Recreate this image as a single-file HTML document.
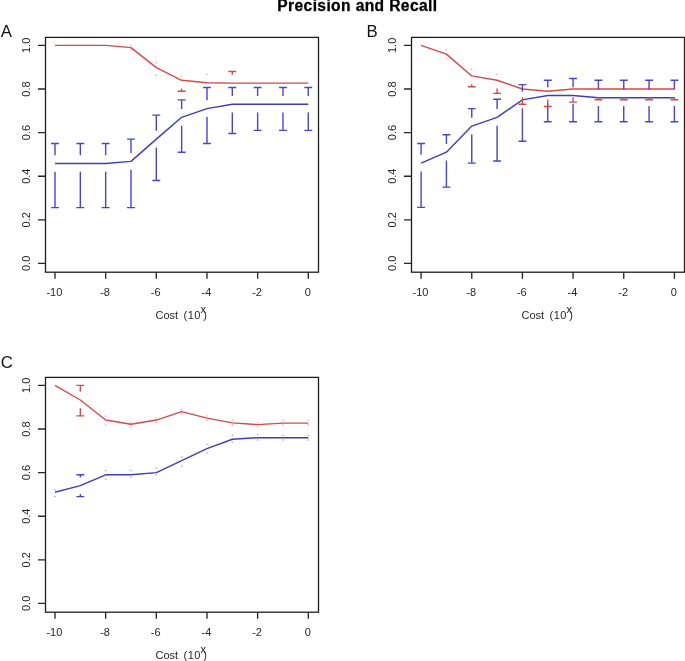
<!DOCTYPE html>
<html><head><meta charset="utf-8"><style>
html,body{margin:0;padding:0;background:#fff;}
svg{display:block;will-change:transform;}
text{font-family:"Liberation Sans",sans-serif;fill:#262626;}
.t{font-size:11px;}
.pl{font-size:16.8px;fill:#111;}
.ti{font-size:15.6px;stroke:#000;stroke-width:0.3px;letter-spacing:0.38px;font-weight:bold;fill:#000;}
</style></head><body>
<svg width="685" height="661" viewBox="0 0 685 661">
<rect width="685" height="661" fill="#fff"/>
<rect x="45.5" y="37.4" width="273" height="234.8" fill="none" stroke="#1e1e1e" stroke-width="1.3"/>
<path d="M38 263.4H45.5M38 219.8H45.5M38 176.2H45.5M38 132.6H45.5M38 89H45.5M38 45.4H45.5M55 272.2V278.8M105.66 272.2V278.8M156.32 272.2V278.8M206.98 272.2V278.8M257.64 272.2V278.8M308.3 272.2V278.8" stroke="#262626" stroke-width="1.35" fill="none"/>
<text transform="translate(30 263.4) rotate(-90)" text-anchor="middle" class="t">0.0</text>
<text transform="translate(30 219.8) rotate(-90)" text-anchor="middle" class="t">0.2</text>
<text transform="translate(30 176.2) rotate(-90)" text-anchor="middle" class="t">0.4</text>
<text transform="translate(30 132.6) rotate(-90)" text-anchor="middle" class="t">0.6</text>
<text transform="translate(30 89) rotate(-90)" text-anchor="middle" class="t">0.8</text>
<text transform="translate(30 45.4) rotate(-90)" text-anchor="middle" class="t">1.0</text>
<text x="54.4" y="295.5" text-anchor="middle" class="t">-10</text>
<text x="105.06" y="295.5" text-anchor="middle" class="t">-8</text>
<text x="155.72" y="295.5" text-anchor="middle" class="t">-6</text>
<text x="206.38" y="295.5" text-anchor="middle" class="t">-4</text>
<text x="257.04" y="295.5" text-anchor="middle" class="t">-2</text>
<text x="307.7" y="295.5" text-anchor="middle" class="t">0</text>
<text x="155.5" y="318.7" class="t">Cost</text><text x="183.5" y="318.7" class="t" letter-spacing="0.5">(10</text><text x="200.5" y="312.7" class="t" font-size="7.8">x</text><text x="203.3" y="318.7" class="t">)</text>
<polyline points="55,45.4 80.33,45.4 105.66,45.4 130.99,47.58 156.32,67.64 181.65,80.28 206.98,82.68 232.31,83.11 257.64,83.11 282.97,83.11 308.3,83.11" fill="none" stroke="#d24a4a" stroke-width="1.4" stroke-linejoin="round"/>
<polyline points="55,163.56 80.33,163.56 105.66,163.56 130.99,161.38 156.32,139.14 181.65,117.34 206.98,108.62 232.31,104.26 257.64,104.26 282.97,104.26 308.3,104.26" fill="none" stroke="#3d3dbe" stroke-width="1.4" stroke-linejoin="round"/>
<g stroke="#4646cc" fill="#4646cc" stroke-width="1.4"><path d="M55 155.26V143.5M51.05 143.5H58.95"/><path d="M55 171.86V207.59M51.05 207.59H58.95"/><path d="M80.33 155.26V143.5M76.38 143.5H84.28"/><path d="M80.33 171.86V207.59M76.38 207.59H84.28"/><path d="M105.66 155.26V143.5M101.71 143.5H109.61"/><path d="M105.66 171.86V207.59M101.71 207.59H109.61"/><path d="M130.99 153.08V139.14M127.04 139.14H134.94"/><path d="M130.99 169.68V207.59M127.04 207.59H134.94"/><path d="M156.32 130.84V115.16M152.37 115.16H160.27"/><path d="M156.32 147.44V180.56M152.37 180.56H160.27"/><path d="M181.65 109.04V99.9M177.7 99.9H185.6"/><path d="M181.65 125.64V152.22M177.7 152.22H185.6"/><path d="M206.98 100.32V87.47M203.03 87.47H210.93"/><path d="M206.98 116.92V143.5M203.03 143.5H210.93"/><path d="M232.31 95.96V87.47M228.36 87.47H236.26"/><path d="M232.31 112.56V133.47M228.36 133.47H236.26"/><path d="M257.64 95.96V87.47M253.69 87.47H261.59"/><path d="M257.64 112.56V130.42M253.69 130.42H261.59"/><path d="M282.97 95.96V87.47M279.02 87.47H286.92"/><path d="M282.97 112.56V130.42M279.02 130.42H286.92"/><path d="M308.3 95.96V87.47M304.35 87.47H312.25"/><path d="M308.3 112.56V130.42M304.35 130.42H312.25"/></g>
<g stroke="#d24a4a" fill="#d24a4a" stroke-width="1.4"><circle cx="130.99" cy="45.4" r="0.75" stroke="none" opacity="0.55"/><circle cx="130.99" cy="49.76" r="0.75" stroke="none" opacity="0.55"/><circle cx="156.32" cy="62.84" r="0.75" stroke="none" opacity="0.55"/><circle cx="156.32" cy="75.27" r="0.75" stroke="none" opacity="0.55"/><circle cx="181.65" cy="75.92" r="0.75" stroke="none" opacity="0.55"/><path d="M181.65 88.58V91.18M177.7 91.18H185.6"/><circle cx="206.98" cy="74.39" r="0.75" stroke="none" opacity="0.55"/><circle cx="206.98" cy="89" r="0.75" stroke="none" opacity="0.55"/><path d="M232.31 74.81V71.56M228.36 71.56H236.26"/><circle cx="232.31" cy="89" r="0.75" stroke="none" opacity="0.55"/></g>
<text x="0.8" y="37.3" class="pl">A</text>
<rect x="411.5" y="37.4" width="273" height="234.8" fill="none" stroke="#1e1e1e" stroke-width="1.3"/>
<path d="M404 263.4H411.5M404 219.8H411.5M404 176.2H411.5M404 132.6H411.5M404 89H411.5M404 45.4H411.5M421.1 272.2V278.8M471.76 272.2V278.8M522.42 272.2V278.8M573.08 272.2V278.8M623.74 272.2V278.8M674.4 272.2V278.8" stroke="#262626" stroke-width="1.35" fill="none"/>
<text transform="translate(396 263.4) rotate(-90)" text-anchor="middle" class="t">0.0</text>
<text transform="translate(396 219.8) rotate(-90)" text-anchor="middle" class="t">0.2</text>
<text transform="translate(396 176.2) rotate(-90)" text-anchor="middle" class="t">0.4</text>
<text transform="translate(396 132.6) rotate(-90)" text-anchor="middle" class="t">0.6</text>
<text transform="translate(396 89) rotate(-90)" text-anchor="middle" class="t">0.8</text>
<text transform="translate(396 45.4) rotate(-90)" text-anchor="middle" class="t">1.0</text>
<text x="420.5" y="295.5" text-anchor="middle" class="t">-10</text>
<text x="471.16" y="295.5" text-anchor="middle" class="t">-8</text>
<text x="521.82" y="295.5" text-anchor="middle" class="t">-6</text>
<text x="572.48" y="295.5" text-anchor="middle" class="t">-4</text>
<text x="623.14" y="295.5" text-anchor="middle" class="t">-2</text>
<text x="673.8" y="295.5" text-anchor="middle" class="t">0</text>
<text x="521.5" y="318.7" class="t">Cost</text><text x="549.5" y="318.7" class="t" letter-spacing="0.5">(10</text><text x="566.5" y="312.7" class="t" font-size="7.8">x</text><text x="569.3" y="318.7" class="t">)</text>
<polyline points="421.1,45.4 446.43,54.12 471.76,75.92 497.09,80.28 522.42,89 547.75,91.18 573.08,89 598.41,89 623.74,89 649.07,89 674.4,89" fill="none" stroke="#d24a4a" stroke-width="1.4" stroke-linejoin="round"/>
<polyline points="421.1,163.12 446.43,152.22 471.76,126.06 497.09,117.34 522.42,99.9 547.75,95.54 573.08,95.54 598.41,97.72 623.74,97.72 649.07,97.72 674.4,97.72" fill="none" stroke="#3d3dbe" stroke-width="1.4" stroke-linejoin="round"/>
<g stroke="#4646cc" fill="#4646cc" stroke-width="1.4"><path d="M421.1 154.82V143.5M417.15 143.5H425.05"/><path d="M421.1 171.42V207.37M417.15 207.37H425.05"/><path d="M446.43 143.92V134.78M442.48 134.78H450.38"/><path d="M446.43 160.52V187.1M442.48 187.1H450.38"/><path d="M471.76 117.76V108.62M467.81 108.62H475.71"/><path d="M471.76 134.36V163.12M467.81 163.12H475.71"/><path d="M497.09 109.04V99.25M493.14 99.25H501.04"/><path d="M497.09 125.64V160.94M493.14 160.94H501.04"/><path d="M522.42 91.6V84.64M518.47 84.64H526.37"/><path d="M522.42 108.2V141.32M518.47 141.32H526.37"/><path d="M547.75 87.24V80.28M543.8 80.28H551.7"/><path d="M547.75 103.84V121.7M543.8 121.7H551.7"/><path d="M573.08 87.24V78.54M569.13 78.54H577.03"/><path d="M573.08 103.84V121.7M569.13 121.7H577.03"/><path d="M598.41 89.42V80.28M594.46 80.28H602.36"/><path d="M598.41 106.02V121.7M594.46 121.7H602.36"/><path d="M623.74 89.42V80.28M619.79 80.28H627.69"/><path d="M623.74 106.02V121.7M619.79 121.7H627.69"/><path d="M649.07 89.42V80.28M645.12 80.28H653.02"/><path d="M649.07 106.02V121.7M645.12 121.7H653.02"/><path d="M674.4 89.42V80.28M670.45 80.28H678.35"/><path d="M674.4 106.02V121.7M670.45 121.7H678.35"/></g>
<g stroke="#d24a4a" fill="#d24a4a" stroke-width="1.4"><circle cx="446.43" cy="49.76" r="0.75" stroke="none" opacity="0.55"/><circle cx="446.43" cy="58.48" r="0.75" stroke="none" opacity="0.55"/><circle cx="471.76" cy="69.38" r="0.75" stroke="none" opacity="0.55"/><path d="M471.76 84.22V86.82M467.81 86.82H475.71"/><circle cx="497.09" cy="74.39" r="0.75" stroke="none" opacity="0.55"/><path d="M497.09 88.58V93.36M493.14 93.36H501.04"/><circle cx="522.42" cy="84.64" r="0.75" stroke="none" opacity="0.55"/><path d="M522.42 97.3V104.26M518.47 104.26H526.37"/><circle cx="547.75" cy="86.82" r="0.75" stroke="none" opacity="0.55"/><path d="M547.75 99.48V106.44M543.8 106.44H551.7"/><circle cx="573.08" cy="84.64" r="0.75" stroke="none" opacity="0.55"/><path d="M573.08 97.3V102.08M569.13 102.08H577.03"/><circle cx="598.41" cy="84.64" r="0.75" stroke="none" opacity="0.55"/><path d="M598.41 97.3V99.68M594.46 99.68H602.36"/><circle cx="623.74" cy="84.64" r="0.75" stroke="none" opacity="0.55"/><path d="M623.74 97.3V99.68M619.79 99.68H627.69"/><circle cx="649.07" cy="84.64" r="0.75" stroke="none" opacity="0.55"/><path d="M649.07 97.3V99.68M645.12 99.68H653.02"/><circle cx="674.4" cy="84.64" r="0.75" stroke="none" opacity="0.55"/><path d="M674.4 97.3V99.68M670.45 99.68H678.35"/></g>
<text x="366.6" y="37.3" class="pl">B</text>
<rect x="45.5" y="377.4" width="273" height="234.8" fill="none" stroke="#1e1e1e" stroke-width="1.3"/>
<path d="M38 603.4H45.5M38 559.8H45.5M38 516.2H45.5M38 472.6H45.5M38 429H45.5M38 385.4H45.5M55 612.2V618.8M105.66 612.2V618.8M156.32 612.2V618.8M206.98 612.2V618.8M257.64 612.2V618.8M308.3 612.2V618.8" stroke="#262626" stroke-width="1.35" fill="none"/>
<text transform="translate(30 603.4) rotate(-90)" text-anchor="middle" class="t">0.0</text>
<text transform="translate(30 559.8) rotate(-90)" text-anchor="middle" class="t">0.2</text>
<text transform="translate(30 516.2) rotate(-90)" text-anchor="middle" class="t">0.4</text>
<text transform="translate(30 472.6) rotate(-90)" text-anchor="middle" class="t">0.6</text>
<text transform="translate(30 429) rotate(-90)" text-anchor="middle" class="t">0.8</text>
<text transform="translate(30 385.4) rotate(-90)" text-anchor="middle" class="t">1.0</text>
<text x="54.4" y="635.5" text-anchor="middle" class="t">-10</text>
<text x="105.06" y="635.5" text-anchor="middle" class="t">-8</text>
<text x="155.72" y="635.5" text-anchor="middle" class="t">-6</text>
<text x="206.38" y="635.5" text-anchor="middle" class="t">-4</text>
<text x="257.04" y="635.5" text-anchor="middle" class="t">-2</text>
<text x="307.7" y="635.5" text-anchor="middle" class="t">0</text>
<text x="155.5" y="658.7" class="t">Cost</text><text x="183.5" y="658.7" class="t" letter-spacing="0.5">(10</text><text x="200.5" y="652.7" class="t" font-size="7.8">x</text><text x="203.3" y="658.7" class="t">)</text>
<polyline points="55,385.4 80.33,400.01 105.66,420.06 130.99,424.2 156.32,420.06 181.65,411.56 206.98,418.1 232.31,422.9 257.64,424.64 282.97,423.11 308.3,423.11" fill="none" stroke="#d24a4a" stroke-width="1.4" stroke-linejoin="round"/>
<polyline points="55,492.22 80.33,485.68 105.66,474.78 130.99,474.78 156.32,472.6 181.65,460.61 206.98,448.62 232.31,439.25 257.64,437.72 282.97,437.72 308.3,437.72" fill="none" stroke="#3d3dbe" stroke-width="1.4" stroke-linejoin="round"/>
<g stroke="#4646cc" fill="#4646cc" stroke-width="1.4"><circle cx="55" cy="490.04" r="0.75" stroke="none" opacity="0.55"/><circle cx="55" cy="496.58" r="0.75" stroke="none" opacity="0.55"/><path d="M80.33 477.38V474.78M76.38 474.78H84.28"/><path d="M80.33 493.98V496.58M76.38 496.58H84.28"/><circle cx="105.66" cy="470.42" r="0.75" stroke="none" opacity="0.55"/><circle cx="105.66" cy="479.14" r="0.75" stroke="none" opacity="0.55"/><circle cx="130.99" cy="470.42" r="0.75" stroke="none" opacity="0.55"/><circle cx="130.99" cy="476.96" r="0.75" stroke="none" opacity="0.55"/><circle cx="156.32" cy="468.24" r="0.75" stroke="none" opacity="0.55"/><circle cx="156.32" cy="474.78" r="0.75" stroke="none" opacity="0.55"/><circle cx="181.65" cy="456.9" r="0.75" stroke="none" opacity="0.55"/><circle cx="181.65" cy="466.06" r="0.75" stroke="none" opacity="0.55"/><circle cx="206.98" cy="444.26" r="0.75" stroke="none" opacity="0.55"/><circle cx="206.98" cy="452.98" r="0.75" stroke="none" opacity="0.55"/><circle cx="232.31" cy="435.54" r="0.75" stroke="none" opacity="0.55"/><circle cx="232.31" cy="442.08" r="0.75" stroke="none" opacity="0.55"/><circle cx="257.64" cy="434.45" r="0.75" stroke="none" opacity="0.55"/><circle cx="257.64" cy="439.9" r="0.75" stroke="none" opacity="0.55"/><circle cx="282.97" cy="435.54" r="0.75" stroke="none" opacity="0.55"/><circle cx="282.97" cy="439.9" r="0.75" stroke="none" opacity="0.55"/><circle cx="308.3" cy="435.54" r="0.75" stroke="none" opacity="0.55"/><circle cx="308.3" cy="439.9" r="0.75" stroke="none" opacity="0.55"/></g>
<g stroke="#d24a4a" fill="#d24a4a" stroke-width="1.4"><path d="M80.33 391.71V385.4M76.38 385.4H84.28"/><path d="M80.33 408.31V415.92M76.38 415.92H84.28"/><circle cx="105.66" cy="415.92" r="0.75" stroke="none" opacity="0.55"/><circle cx="105.66" cy="424.64" r="0.75" stroke="none" opacity="0.55"/><circle cx="130.99" cy="422.46" r="0.75" stroke="none" opacity="0.55"/><circle cx="130.99" cy="426.82" r="0.75" stroke="none" opacity="0.55"/><circle cx="156.32" cy="418.1" r="0.75" stroke="none" opacity="0.55"/><circle cx="156.32" cy="422.46" r="0.75" stroke="none" opacity="0.55"/><circle cx="181.65" cy="409.38" r="0.75" stroke="none" opacity="0.55"/><circle cx="181.65" cy="413.74" r="0.75" stroke="none" opacity="0.55"/><circle cx="206.98" cy="415.92" r="0.75" stroke="none" opacity="0.55"/><circle cx="206.98" cy="420.28" r="0.75" stroke="none" opacity="0.55"/><circle cx="232.31" cy="420.28" r="0.75" stroke="none" opacity="0.55"/><circle cx="232.31" cy="424.64" r="0.75" stroke="none" opacity="0.55"/><circle cx="257.64" cy="422.46" r="0.75" stroke="none" opacity="0.55"/><circle cx="257.64" cy="426.82" r="0.75" stroke="none" opacity="0.55"/><circle cx="282.97" cy="420.28" r="0.75" stroke="none" opacity="0.55"/><circle cx="282.97" cy="424.64" r="0.75" stroke="none" opacity="0.55"/><circle cx="308.3" cy="420.28" r="0.75" stroke="none" opacity="0.55"/><circle cx="308.3" cy="424.64" r="0.75" stroke="none" opacity="0.55"/></g>
<text x="0.7" y="368.3" class="pl">C</text>
<text x="277.3" y="10.7" class="ti">Precision and Recall</text>
</svg>
</body></html>
